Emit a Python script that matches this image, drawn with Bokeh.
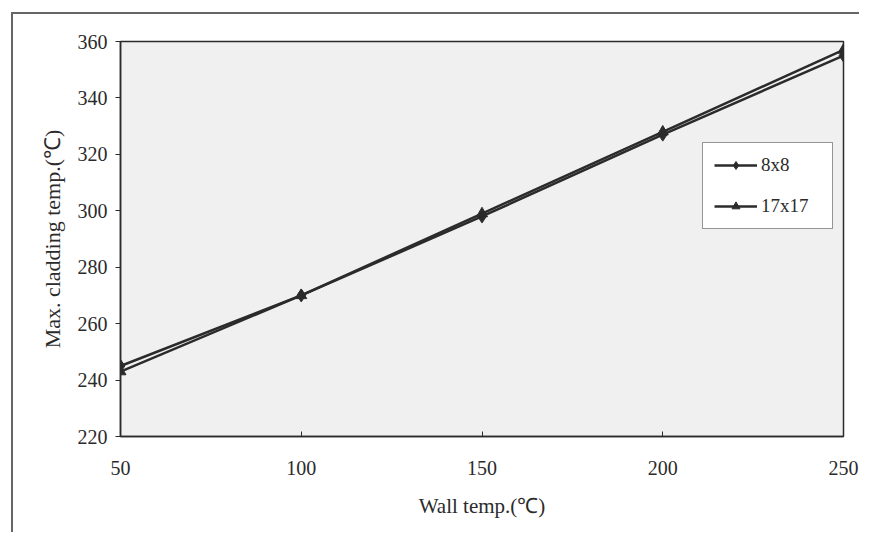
from bokeh.plotting import figure
from bokeh.models import Range1d, FixedTicker, Legend, LegendItem
from bokeh.embed import file_html
from bokeh.resources import INLINE

wall_temp = [50, 100, 150, 200, 250]
clad_8x8 = [245, 270, 298, 327, 355]
clad_17x17 = [243, 270, 299, 328, 357]
x_ticks = [50, 100, 150, 200, 250]
y_ticks = [220, 240, 260, 280, 300, 320, 340, 360]

FONT = "Liberation Serif"
INK = "#2b2b2b"

p = figure(width=848, height=520, output_backend="svg", toolbar_location=None,
           x_range=Range1d(50, 250), y_range=Range1d(220, 360),
           min_border_left=107, min_border_top=27, min_border_right=18, min_border_bottom=98)
p.styles = {"margin-left": "11px", "margin-top": "12px",
            "border-left": "2px solid #666", "border-top": "2px solid #666"}

p.background_fill_color = "#f0f0f0"
p.border_fill_color = "white"
p.outline_line_color = INK
p.outline_line_width = 1.5
p.grid.visible = False

p.xaxis.ticker = FixedTicker(ticks=x_ticks)
p.yaxis.ticker = FixedTicker(ticks=y_ticks)
for ax in (p.xaxis[0], p.yaxis[0]):
    ax.axis_line_color = INK
    ax.axis_line_width = 1.5
    ax.major_tick_line_color = INK
    ax.minor_tick_line_color = None
    ax.major_label_text_font = FONT
    ax.major_label_text_font_size = "20px"
    ax.major_label_text_color = INK
    ax.axis_label_text_font = FONT
    ax.axis_label_text_font_style = "normal"
    ax.axis_label_text_color = INK
p.xaxis.axis_label_text_font_size = "21px"
p.yaxis.axis_label_text_font_size = "22px"
p.xaxis.major_tick_in = 5
p.xaxis.major_tick_out = 0
p.yaxis.major_tick_in = 0
p.yaxis.major_tick_out = 5
p.xaxis.major_label_standoff = 24
p.yaxis.major_label_standoff = 8
p.xaxis.axis_label = "Wall temp.(℃)"
p.yaxis.axis_label = "Max. cladding temp.(℃)"
p.xaxis.axis_label_standoff = 16
p.yaxis.axis_label_standoff = 10

l1 = p.line(wall_temp, clad_8x8, line_color=INK, line_width=2.5)
m1 = p.scatter(wall_temp, clad_8x8, marker="diamond", size=13, fill_color=INK, line_color=INK)
l2 = p.line(wall_temp, clad_17x17, line_color=INK, line_width=2.5)
m2 = p.scatter(wall_temp, clad_17x17, marker="triangle", size=11, fill_color=INK, line_color=INK)

legend = Legend(items=[LegendItem(label="8x8", renderers=[l1, m1]),
                       LegendItem(label="17x17", renderers=[l2, m2])],
                location=(582, 207))
legend.border_line_color = INK
legend.border_line_width = 1.5
legend.background_fill_color = "white"
legend.background_fill_alpha = 1
legend.label_text_font = FONT
legend.label_text_font_size = "19px"
legend.label_text_color = INK
legend.glyph_width = 43
legend.glyph_height = 20
legend.label_height = 20
legend.label_width = 60
legend.label_standoff = 4
legend.spacing = 19
legend.padding = 11
legend.margin = 0
p.add_layout(legend, "center")

open("out.html", "w").write(file_html(p, INLINE))
